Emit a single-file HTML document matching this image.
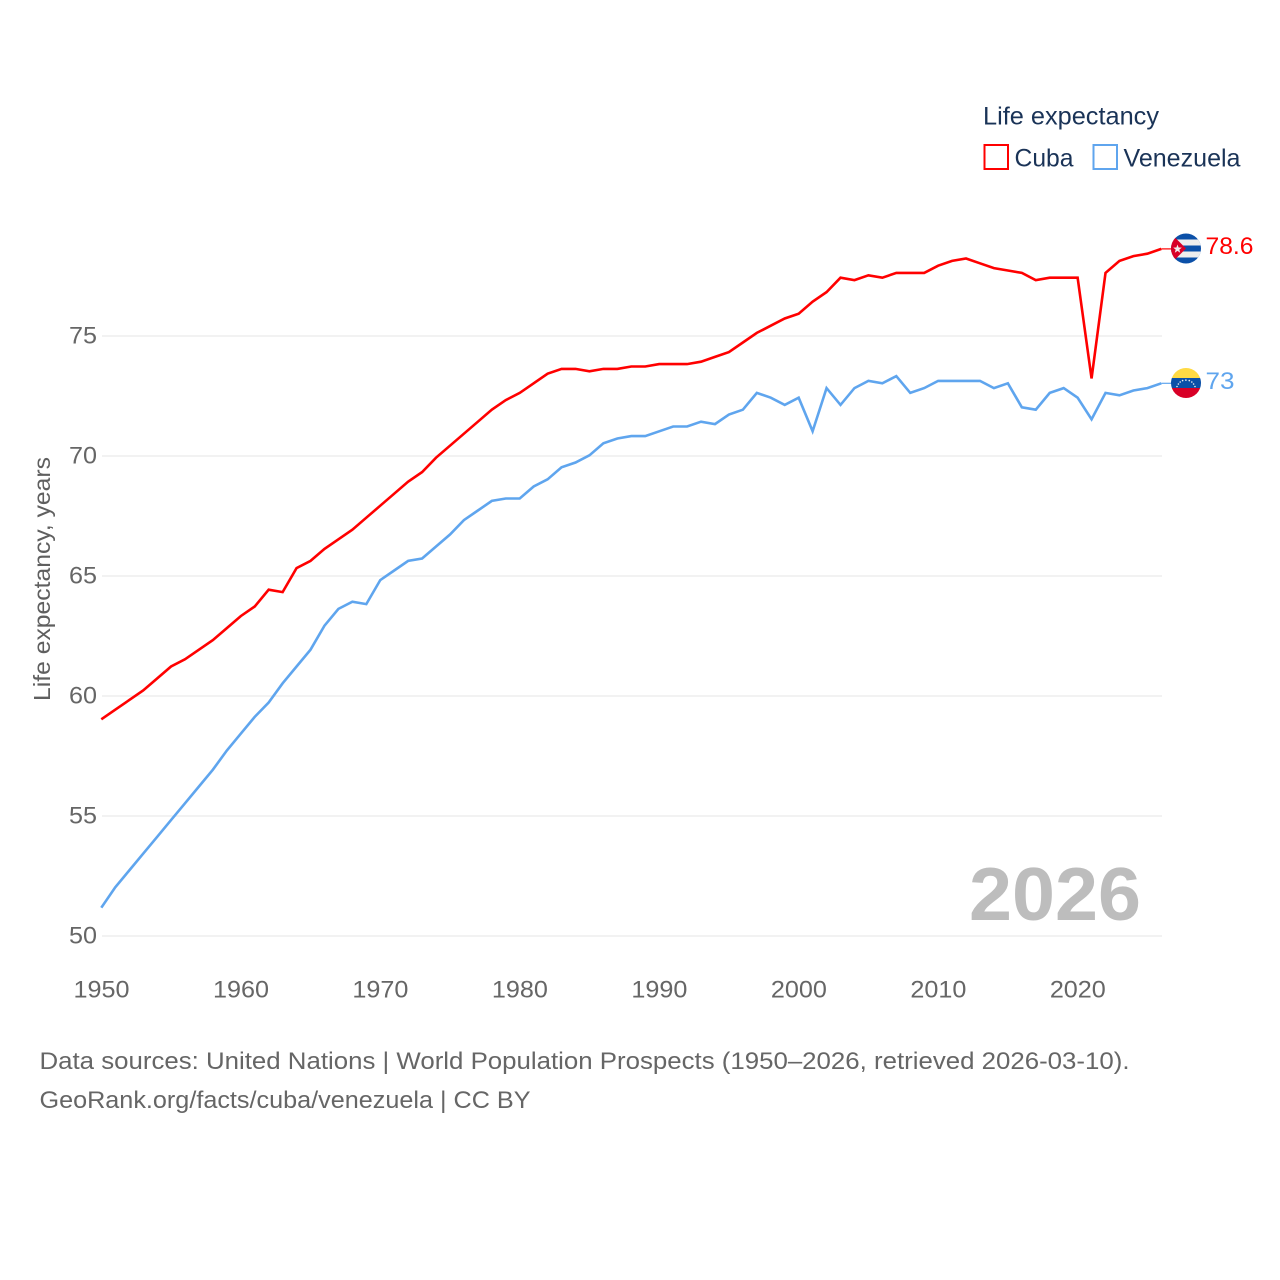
<!DOCTYPE html>
<html lang="en">
<head>
<meta charset="utf-8">
<title>Life expectancy: Cuba and Venezuela</title>
<style>
html,body{margin:0;padding:0;background:#fff;}
svg{display:block;font-family:"Liberation Sans",sans-serif;}
</style>
</head>
<body>
<svg id="chart" width="1280" height="1280" viewBox="0 0 1280 1280" xmlns="http://www.w3.org/2000/svg">
  <defs>
    <clipPath id="clip-cuba"><circle cx="1186" cy="248.5" r="15"/></clipPath>
    <clipPath id="clip-ven"><circle cx="1186" cy="383" r="15"/></clipPath>
  </defs>
  <rect width="1280" height="1280" fill="#fff"/>

  <g id="grid"></g>
  <g id="ytick-labels"></g>
  <g id="xtick-labels"></g>

  <text transform="translate(50,579) rotate(-90)" text-anchor="middle" font-size="23.5" fill="#5f5f5f" textLength="244" lengthAdjust="spacingAndGlyphs">Life expectancy, years</text>

  <text x="969" y="920" font-size="75" font-weight="700" fill="#bdbdbd" textLength="172" lengthAdjust="spacingAndGlyphs">2026</text>

  <g id="series"></g>

  <g clip-path="url(#clip-cuba)">
    <rect x="1171" y="233.5" width="30" height="30" fill="#0b50a8"/>
    <rect x="1171" y="239.5" width="30" height="6" fill="#eeeeee"/>
    <rect x="1171" y="251.5" width="30" height="6" fill="#eeeeee"/>
    <polygon points="1171,233.5 1186,248.5 1171,263.5" fill="#d80027"/>
    <polygon points="1177.5,244.5 1178.6,247.5 1181.8,247.6 1179.3,249.6 1180.2,252.7 1177.5,250.9 1174.8,252.7 1175.7,249.6 1173.2,247.6 1176.4,247.5" fill="#eeeeee"/>
  </g>
  <g clip-path="url(#clip-ven)">
    <rect x="1171" y="368" width="30" height="10" fill="#ffda44"/>
    <rect x="1171" y="378" width="30" height="10" fill="#0b50a8"/>
    <rect x="1171" y="388" width="30" height="10" fill="#d80027"/>
    <g fill="#eeeeee">
      <circle cx="1177" cy="386.5" r="0.8"/><circle cx="1178.4" cy="384" r="0.8"/><circle cx="1180.2" cy="382" r="0.8"/>
      <circle cx="1182.6" cy="380.6" r="0.8"/><circle cx="1185.9" cy="380.1" r="0.8"/><circle cx="1189.3" cy="380.6" r="0.8"/>
      <circle cx="1191.8" cy="382" r="0.8"/><circle cx="1193.6" cy="384" r="0.8"/><circle cx="1195" cy="386.5" r="0.8"/>
    </g>
  </g>

  <text x="1205.5" y="254" font-size="24.5" fill="#ff0000" textLength="48" lengthAdjust="spacingAndGlyphs">78.6</text>
  <text x="1205.5" y="389" font-size="24.5" fill="#5fa5ee" textLength="29" lengthAdjust="spacingAndGlyphs">73</text>

  <g>
    <text x="983" y="124.5" font-size="25" fill="#1a3357" textLength="176" lengthAdjust="spacingAndGlyphs">Life expectancy</text>
    <g>
      <rect x="984.5" y="145" width="23.5" height="24" fill="#fff" stroke="#ff0000" stroke-width="2"/>
      <text x="1014.5" y="166.5" font-size="25" fill="#1a3357" textLength="59" lengthAdjust="spacingAndGlyphs">Cuba</text>
    </g>
    <g>
      <rect x="1093.5" y="145" width="23.5" height="24" fill="#fff" stroke="#5fa5ee" stroke-width="2"/>
      <text x="1123.5" y="166.5" font-size="25" fill="#1a3357" textLength="117" lengthAdjust="spacingAndGlyphs">Venezuela</text>
    </g>
  </g>

  <text x="39.5" y="1069" font-size="24.5" fill="#666666" textLength="1090" lengthAdjust="spacingAndGlyphs">Data sources: United Nations | World Population Prospects (1950–2026, retrieved 2026-03-10).</text>
  <text x="39.5" y="1108" font-size="24.5" fill="#666666" textLength="491" lengthAdjust="spacingAndGlyphs">GeoRank.org/facts/cuba/venezuela | CC BY</text>
</svg>

<script>
const years = [1950,1951,1952,1953,1954,1955,1956,1957,1958,1959,1960,1961,1962,1963,1964,1965,1966,1967,1968,1969,1970,1971,1972,1973,1974,1975,1976,1977,1978,1979,1980,1981,1982,1983,1984,1985,1986,1987,1988,1989,1990,1991,1992,1993,1994,1995,1996,1997,1998,1999,2000,2001,2002,2003,2004,2005,2006,2007,2008,2009,2010,2011,2012,2013,2014,2015,2016,2017,2018,2019,2020,2021,2022,2023,2024,2025,2026];
const cubaValues = [59.0,59.4,59.8,60.2,60.7,61.2,61.5,61.9,62.3,62.8,63.3,63.7,64.4,64.3,65.3,65.6,66.1,66.5,66.9,67.4,67.9,68.4,68.9,69.3,69.9,70.4,70.9,71.4,71.9,72.3,72.6,73.0,73.4,73.6,73.6,73.5,73.6,73.6,73.7,73.7,73.8,73.8,73.8,73.9,74.1,74.3,74.7,75.1,75.4,75.7,75.9,76.4,76.8,77.4,77.3,77.5,77.4,77.6,77.6,77.6,77.9,78.1,78.2,78.0,77.8,77.7,77.6,77.3,77.4,77.4,77.4,73.2,77.6,78.1,78.3,78.4,78.6];
const venezuelaValues = [51.15,52.0,52.7,53.4,54.1,54.8,55.5,56.2,56.9,57.7,58.4,59.1,59.7,60.5,61.2,61.9,62.9,63.6,63.9,63.8,64.8,65.2,65.6,65.7,66.2,66.7,67.3,67.7,68.1,68.2,68.2,68.7,69.0,69.5,69.7,70.0,70.5,70.7,70.8,70.8,71.0,71.2,71.2,71.4,71.3,71.7,71.9,72.6,72.4,72.1,72.4,71.0,72.8,72.1,72.8,73.1,73.0,73.3,72.6,72.8,73.1,73.1,73.1,73.1,72.8,73.0,72.0,71.9,72.6,72.8,72.4,71.5,72.6,72.5,72.7,72.8,73.0];
const yTicks = [50,55,60,65,70,75];
const xTicks = [1950,1960,1970,1980,1990,2000,2010,2020];

const SVG_NS = 'http://www.w3.org/2000/svg';
const plotLeft = 102, plotRight = 1162, plotBottom = 936, plotTop = 336;
const lineShiftX = -0.7, lineShiftY = -0.7;
function xScale(year) { return plotLeft + (year - 1950) * (plotRight - plotLeft) / (2026 - 1950); }
function yScale(value) { return plotBottom - (value - 50) * (plotBottom - plotTop) / (75 - 50); }

const gridGroup = document.getElementById('grid');
const yLabelGroup = document.getElementById('ytick-labels');
yTicks.forEach(function (tick) {
  const line = document.createElementNS(SVG_NS, 'line');
  
  
  line.setAttribute('x1', plotLeft);
  line.setAttribute('x2', plotRight);
  line.setAttribute('y1', yScale(tick));
  line.setAttribute('y2', yScale(tick));
  line.setAttribute('stroke', '#ededed');
  line.setAttribute('stroke-width', '1.6');
  gridGroup.appendChild(line);

  const label = document.createElementNS(SVG_NS, 'text');
  
  
  label.setAttribute('x', 97);
  label.setAttribute('y', yScale(tick) + 7.5);
  label.setAttribute('text-anchor', 'end');
  label.setAttribute('font-size', '24.5');
  label.setAttribute('fill', '#666666');
  label.setAttribute('textLength', '28');
  label.setAttribute('lengthAdjust', 'spacingAndGlyphs');
  label.textContent = String(tick);
  yLabelGroup.appendChild(label);
});

const xLabelGroup = document.getElementById('xtick-labels');
xTicks.forEach(function (tick) {
  const label = document.createElementNS(SVG_NS, 'text');
  
  
  label.setAttribute('x', xScale(tick) - 0.5);
  label.setAttribute('y', 997.5);
  label.setAttribute('text-anchor', 'middle');
  label.setAttribute('font-size', '24.5');
  label.setAttribute('fill', '#666666');
  label.setAttribute('textLength', '56');
  label.setAttribute('lengthAdjust', 'spacingAndGlyphs');
  label.textContent = String(tick);
  xLabelGroup.appendChild(label);
});

const seriesGroup = document.getElementById('series');

function pointsFor(values) {
  return values.map(function (value, i) {
    return (xScale(years[i]) + lineShiftX).toFixed(2) + ',' + (yScale(value) + lineShiftY).toFixed(2);
  }).join(' ');
}

const cubaLine = document.createElementNS(SVG_NS, 'polyline');


cubaLine.setAttribute('points', pointsFor(cubaValues));
cubaLine.setAttribute('fill', 'none');
cubaLine.setAttribute('stroke', '#ff0000');
cubaLine.setAttribute('stroke-width', '2.6');
cubaLine.setAttribute('stroke-linejoin', 'miter');
seriesGroup.appendChild(cubaLine);

const venezuelaLine = document.createElementNS(SVG_NS, 'polyline');


venezuelaLine.setAttribute('points', pointsFor(venezuelaValues));
venezuelaLine.setAttribute('fill', 'none');
venezuelaLine.setAttribute('stroke', '#5fa5ee');
venezuelaLine.setAttribute('stroke-width', '2.6');
venezuelaLine.setAttribute('stroke-linejoin', 'miter');
seriesGroup.appendChild(venezuelaLine);

const cubaLead = document.createElementNS(SVG_NS, 'line');


cubaLead.setAttribute('x1', xScale(2026) + lineShiftX);
cubaLead.setAttribute('x2', xScale(2026) + 10);
cubaLead.setAttribute('y1', yScale(cubaValues[cubaValues.length - 1]) + lineShiftY);
cubaLead.setAttribute('y2', yScale(cubaValues[cubaValues.length - 1]) + lineShiftY);
cubaLead.setAttribute('stroke', '#ff0000');
cubaLead.setAttribute('stroke-width', '1.2');
seriesGroup.appendChild(cubaLead);

const venezuelaLead = document.createElementNS(SVG_NS, 'line');


venezuelaLead.setAttribute('x1', xScale(2026) + lineShiftX);
venezuelaLead.setAttribute('x2', xScale(2026) + 10);
venezuelaLead.setAttribute('y1', yScale(venezuelaValues[venezuelaValues.length - 1]) + lineShiftY);
venezuelaLead.setAttribute('y2', yScale(venezuelaValues[venezuelaValues.length - 1]) + lineShiftY);
venezuelaLead.setAttribute('stroke', '#5fa5ee');
venezuelaLead.setAttribute('stroke-width', '1.2');
seriesGroup.appendChild(venezuelaLead);
</script>
</body>
</html>
